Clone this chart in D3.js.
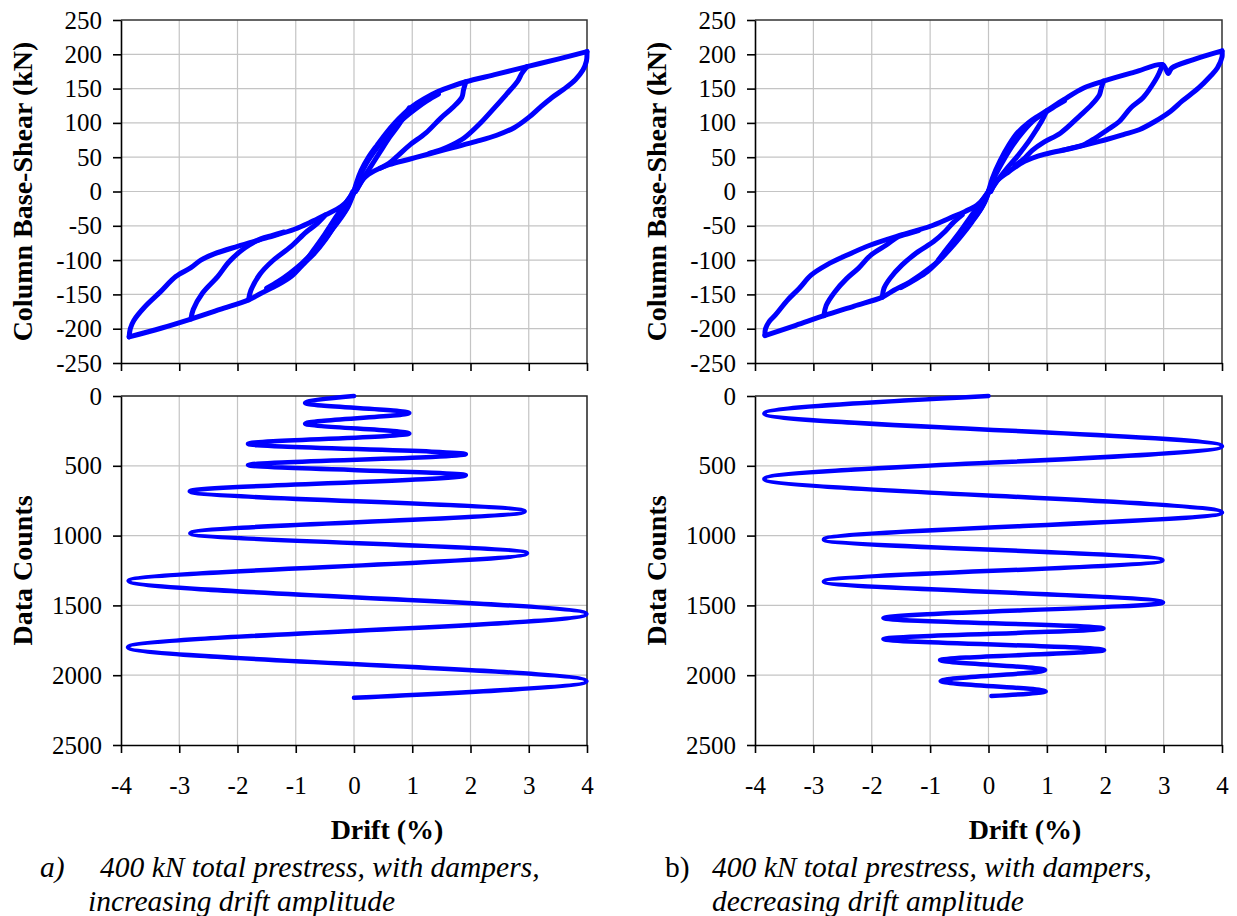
<!DOCTYPE html>
<html>
<head>
<meta charset="utf-8">
<script src="https://cdn.jsdelivr.net/npm/d3@7"></script>
<style>
  body { margin: 0; background: #fff; }
  svg { display: block; }
  text { font-family: "Liberation Serif", "Times New Roman", serif; }
</style>
</head>
<body>
<svg id="chart" width="1237" height="916"></svg>
<script>
const BLUE = "#0000ff";
const GRID = "#c4c4c4";

const driftTicks = [-4, -3, -2, -1, 0, 1, 2, 3, 4];
const shearTicks = [-250, -200, -150, -100, -50, 0, 50, 100, 150, 200, 250];
const countTicks = [0, 500, 1000, 1500, 2000, 2500];

// drift history, [drift %, data count] at start, peaks and end
const historyA = [[0, 0], [-0.84, 50], [0.95, 121], [-0.84, 198], [0.95, 269], [-1.82, 343], [1.92, 417],
  [-1.82, 495], [1.92, 567], [-2.82, 683], [2.93, 826], [-2.81, 983], [2.97, 1126], [-3.87, 1324],
  [3.99, 1562], [-3.88, 1800], [3.99, 2043], [0, 2162]];
const historyB = [[0, 0], [-3.84, 126], [4.0, 360], [-3.84, 594], [4.0, 835], [-2.82, 1028], [2.98, 1176],
  [-2.82, 1329], [2.99, 1479], [-1.8, 1591], [1.97, 1665], [-1.8, 1741], [1.98, 1820], [-0.83, 1892],
  [0.97, 1963], [-0.82, 2042], [0.98, 2116], [0.05, 2149]];

// hysteresis branches, [drift %, shear kN]
// panel a) increasing amplitude
const loadPosA = [[0, 0], [0.04, 12], [0.12, 30], [0.25, 50], [0.4, 68], [0.55, 85], [0.7, 100], [0.85, 113],
  [1.0, 124], [1.2, 135], [1.45, 146], [1.7, 154], [1.92, 160], [2.45, 171], [2.97, 182], [3.5, 193], [4.0, 204]];
const reloadPosA = [[-0.05, -8], [0.02, 5], [0.1, 22], [0.22, 42], [0.38, 62], [0.55, 80], [0.72, 96],
  [0.9, 110], [1.05, 120], [1.25, 132], [1.45, 142]];
const unload4A = [[4.0, 204], [3.99, 190], [3.93, 177], [3.8, 163], [3.6, 149], [3.4, 137], [3.2, 123], [3.0, 108],
  [2.75, 93], [2.45, 82], [2.1, 73], [1.7, 64], [1.3, 55], [0.95, 47], [0.6, 39], [0.35, 30], [0.18, 20], [0.08, 8], [0.03, 0]];
const unload3A = [[2.97, 182], [2.88, 172], [2.81, 161], [2.61, 141], [2.41, 122], [2.15, 98], [1.89, 78], [1.69, 68], [1.5, 61], [1.3, 56]];
const unload2A = [[1.92, 160], [1.88, 148], [1.85, 137], [1.69, 122], [1.49, 107], [1.23, 85], [0.96, 68], [0.75, 52], [0.6, 41], [0.45, 34]];
const unload1A = [[0.95, 122], [0.88, 112], [0.75, 95], [0.6, 78], [0.45, 58], [0.3, 38], [0.15, 18], [0.05, 3]];
const loadNegA = [[0, 0], [-0.06, -12], [-0.15, -28], [-0.29, -44], [-0.49, -70], [-0.7, -92], [-0.85, -104],
  [-1.08, -124], [-1.35, -138], [-1.61, -149], [-1.81, -158], [-2.3, -172], [-2.8, -186], [-3.3, -199], [-3.86, -212]];
const reloadNegA = [[0.05, 8], [-0.02, -6], [-0.1, -22], [-0.22, -38], [-0.38, -56], [-0.55, -75], [-0.72, -90],
  [-0.9, -105], [-1.1, -119], [-1.3, -131], [-1.5, -141]];
const unload4NegA = [[-3.86, -212], [-3.84, -200], [-3.78, -188], [-3.59, -168], [-3.32, -146], [-3.06, -124],
  [-2.8, -111], [-2.63, -100], [-2.4, -91], [-2.0, -80], [-1.48, -67], [-1.02, -55], [-0.75, -45], [-0.49, -34],
  [-0.22, -22], [-0.08, -10], [-0.02, 0]];
const unload3NegA = [[-2.8, -186], [-2.76, -172], [-2.6, -148], [-2.34, -124], [-2.14, -102], [-1.87, -82], [-1.6, -69], [-1.4, -64], [-1.2, -59]];
const unload2NegA = [[-1.81, -158], [-1.77, -144], [-1.61, -120], [-1.41, -102], [-1.08, -80], [-0.82, -59], [-0.65, -48], [-0.5, -35]];
const unload1NegA = [[-0.85, -104], [-0.7, -86], [-0.5, -62], [-0.3, -36], [-0.12, -14], [0, 0]];

// panel b) decreasing amplitude
const loadPosB = [[0, 0], [0.07, 20], [0.2, 45], [0.35, 68], [0.5, 86], [0.68, 100], [0.85, 110], [1.0, 118],
  [1.29, 134], [1.63, 151], [1.97, 161], [2.5, 174], [2.98, 185], [3.04, 178], [3.08, 172], [3.14, 180], [3.5, 192], [4.0, 205]];
const reloadPosB = [[-0.05, -8], [0.03, 6], [0.12, 24], [0.26, 46], [0.42, 68], [0.6, 88], [0.78, 104],
  [0.95, 114], [1.1, 122], [1.3, 132]];
const unload4B = [[4.0, 205], [4.0, 196], [3.92, 180], [3.8, 168], [3.6, 151], [3.32, 132], [3.12, 117], [2.85, 102],
  [2.58, 90], [2.31, 83], [1.9, 73], [1.43, 63], [0.95, 54], [0.62, 44], [0.35, 29], [0.14, 15], [0.04, 0]];
const unload3B = [[2.98, 185], [2.92, 172], [2.85, 161], [2.65, 137], [2.44, 122], [2.24, 102], [2.04, 90], [1.83, 78], [1.63, 68], [1.45, 64], [1.25, 60]];
const unload2B = [[1.97, 161], [1.93, 150], [1.9, 141], [1.77, 127], [1.56, 110], [1.23, 85], [0.95, 72], [0.75, 60], [0.6, 47], [0.45, 38]];
const unload1B = [[1.0, 118], [0.92, 104], [0.82, 90], [0.68, 72], [0.5, 52], [0.3, 32], [0.12, 12], [0.03, 0]];
const loadNegB = [[0, 0], [-0.06, -15], [-0.2, -34], [-0.4, -54], [-0.6, -73], [-0.8, -96], [-1.01, -112],
  [-1.35, -132], [-1.62, -144], [-1.82, -154], [-2.3, -167], [-2.82, -181], [-3.3, -195], [-3.83, -210]];
const reloadNegB = [[0.05, 8], [-0.03, -8], [-0.12, -24], [-0.28, -44], [-0.46, -64], [-0.66, -84], [-0.86, -102],
  [-1.05, -117], [-1.25, -128], [-1.5, -140]];
const unload4NegB = [[-3.83, -210], [-3.82, -200], [-3.76, -190], [-3.65, -180], [-3.45, -159], [-3.24, -141],
  [-3.04, -122], [-2.77, -107], [-2.43, -93], [-2.02, -78], [-1.48, -63], [-1.01, -51], [-0.67, -39], [-0.4, -29],
  [-0.2, -20], [-0.06, -8], [0, 0]];
const unload3NegB = [[-2.82, -181], [-2.78, -166], [-2.63, -146], [-2.43, -127], [-2.23, -112], [-2.02, -93], [-1.75, -78], [-1.55, -66], [-1.4, -62], [-1.2, -57]];
const unload2NegB = [[-1.82, -154], [-1.79, -141], [-1.69, -127], [-1.48, -107], [-1.21, -88], [-0.94, -73], [-0.74, -58], [-0.6, -45], [-0.45, -34]];
const unload1NegB = [[-0.86, -100], [-0.7, -82], [-0.5, -60], [-0.3, -36], [-0.12, -14], [0, 0]];

const branchesA = [loadPosA, reloadPosA, unload4A, unload3A, unload2A, unload1A,
  loadNegA, reloadNegA, unload4NegA, unload3NegA, unload2NegA, unload1NegA];
const branchesB = [loadPosB, reloadPosB, unload4B, unload3B, unload2B, unload1B,
  loadNegB, reloadNegB, unload4NegB, unload3NegB, unload2NegB, unload1NegB];

const svg = d3.select("#chart");

const panels = [
  { left: 121, right: 587, branches: branchesA, history: historyA, ylabX: 22, driftX: 387,
    tag: "a)", tagItalic: true, tagX: 40, capX: 100, cap2X: 88,
    cap1: "400 kN total prestress, with dampers,", cap2: "increasing drift amplitude" },
  { left: 755, right: 1222, branches: branchesB, history: historyB, ylabX: 656, driftX: 1025,
    tag: "b)", tagItalic: false, tagX: 665, capX: 712, cap2X: 712,
    cap1: "400 kN total prestress, with dampers,", cap2: "decreasing drift amplitude" }
];

const TOP = [20, 363];     // y range of force plot
const BOT = [396, 745];    // y range of count plot
const FONT = '"Liberation Serif", "Times New Roman", serif';

panels.forEach(function (p) {
  let x = d3.scaleLinear().domain([-4, 4]).range([p.left, p.right]);
  let yF = d3.scaleLinear().domain([-250, 250]).range([TOP[1], TOP[0]]);
  let yC = d3.scaleLinear().domain([0, 2500]).range([BOT[0], BOT[1]]);

  // ---- force vs drift ----
  let gTop = svg.append("g");
  gTop.selectAll(".vg").data(driftTicks.slice(1, -1)).enter().append("line")
    .attr("x1", d => x(d)).attr("x2", d => x(d))
    .attr("y1", TOP[0]).attr("y2", TOP[1])
    .attr("stroke", GRID).attr("stroke-width", 1.2);
  gTop.selectAll(".hg").data(shearTicks.slice(1, -1)).enter().append("line")
    .attr("x1", p.left).attr("x2", p.right)
    .attr("y1", d => yF(d)).attr("y2", d => yF(d))
    .attr("stroke", GRID).attr("stroke-width", 1.2);
  // border
  gTop.append("path")
    .attr("d", `M${p.left},${TOP[0]}H${p.right}V${TOP[1]}`)
    .attr("fill", "none").attr("stroke", "#333").attr("stroke-width", 1.5);

  let lineF = d3.line().x(d => x(d[0])).y(d => yF(d[1])).curve(d3.curveCatmullRom.alpha(0.5));
  gTop.selectAll(".br").data(p.branches).enter().append("path")
    .attr("d", lineF)
    .attr("fill", "none").attr("stroke", BLUE).attr("stroke-width", 5)
    .attr("stroke-linecap", "round").attr("stroke-linejoin", "round");

  let axF = gTop.append("g").attr("transform", `translate(${p.left},0)`)
    .call(d3.axisLeft(yF).tickValues(shearTicks).tickSize(8).tickSizeOuter(0).tickPadding(11)
      .tickFormat(d => String(d)));
  let axFx = gTop.append("g").attr("transform", `translate(0,${TOP[1]})`)
    .call(d3.axisBottom(x).tickValues(driftTicks).tickSize(8).tickSizeOuter(0).tickFormat(""));

  // ---- data counts vs drift ----
  let gBot = svg.append("g");
  gBot.selectAll(".vg").data(driftTicks.slice(1, -1)).enter().append("line")
    .attr("x1", d => x(d)).attr("x2", d => x(d))
    .attr("y1", BOT[0]).attr("y2", BOT[1])
    .attr("stroke", GRID).attr("stroke-width", 1.2);
  gBot.selectAll(".hg").data(countTicks.slice(1, -1)).enter().append("line")
    .attr("x1", p.left).attr("x2", p.right)
    .attr("y1", d => yC(d)).attr("y2", d => yC(d))
    .attr("stroke", GRID).attr("stroke-width", 1.2);
  gBot.append("path")
    .attr("d", `M${p.left},${BOT[0]}H${p.right}V${BOT[1]}`)
    .attr("fill", "none").attr("stroke", "#222").attr("stroke-width", 1.5);

  let lineC = d3.line().x(d => x(d[0])).y(d => yC(d[1])).curve(d3.curveMonotoneY);
  gBot.append("path").datum(p.history)
    .attr("d", lineC)
    .attr("fill", "none").attr("stroke", BLUE).attr("stroke-width", 4.5)
    .attr("stroke-linecap", "round");

  let axC = gBot.append("g").attr("transform", `translate(${p.left},0)`)
    .call(d3.axisLeft(yC).tickValues(countTicks).tickSize(8).tickSizeOuter(0).tickPadding(11)
      .tickFormat(d => String(d)));
  let axCx = gBot.append("g").attr("transform", `translate(0,${BOT[1]})`)
    .call(d3.axisBottom(x).tickValues(driftTicks).tickSize(8).tickSizeOuter(0).tickPadding(23)
      .tickFormat(d => String(d)));

  [axF, axFx, axC, axCx].forEach(function (a) {
    a.attr("font-family", FONT);
    a.selectAll("path, line").attr("stroke", "#000").attr("stroke-width", 1.6);
    a.selectAll("text").attr("font-size", 25).attr("fill", "#000");
  });

  // axis titles
  svg.append("text")
    .attr("transform", `translate(${p.ylabX},${(TOP[0] + TOP[1]) / 2}) rotate(-90)`)
    .attr("text-anchor", "middle").attr("dy", "0.35em")
    .attr("font-size", 28).attr("font-weight", "bold")
    .text("Column Base-Shear (kN)");
  svg.append("text")
    .attr("transform", `translate(${p.ylabX},${(BOT[0] + BOT[1]) / 2}) rotate(-90)`)
    .attr("text-anchor", "middle").attr("dy", "0.35em")
    .attr("font-size", 28).attr("font-weight", "bold")
    .text("Data Counts");
  svg.append("text")
    .attr("x", p.driftX).attr("y", 839)
    .attr("text-anchor", "middle")
    .attr("font-size", 28).attr("font-weight", "bold")
    .text("Drift (%)");

  // caption
  svg.append("text").attr("x", p.tagX).attr("y", 877)
    .attr("font-size", 29.5).attr("font-style", p.tagItalic ? "italic" : "normal")
    .text(p.tag);
  svg.append("text").attr("x", p.capX).attr("y", 877)
    .attr("font-size", 29.5).attr("font-style", "italic")
    .text(p.cap1);
  svg.append("text").attr("x", p.cap2X).attr("y", 911)
    .attr("font-size", 29.5).attr("font-style", "italic")
    .text(p.cap2);
});
</script>
</body>
</html>
